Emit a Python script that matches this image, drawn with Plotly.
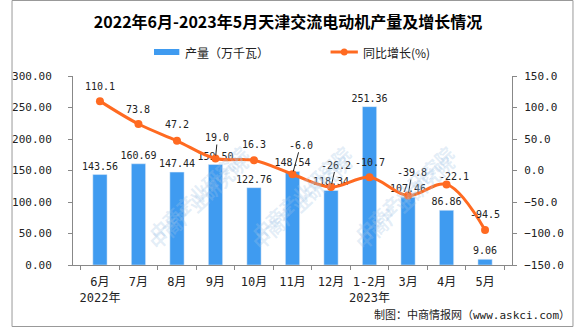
import plotly.graph_objects as go

categories = ["6月<br>2022年", "7月", "8月", "9月", "10月", "11月", "12月", "1-2月<br>2023年", "3月", "4月", "5月"]
production = [143.56, 160.69, 147.44, 159.50, 122.76, 148.54, 118.34, 251.36, 107.46, 86.86, 9.06]
growth = [110.1, 73.8, 47.2, 19.0, 16.3, -6.0, -26.2, -10.7, -39.8, -22.1, -94.5]

# label placement styles for the growth labels (pixel offsets), leader lines
label_dy = [15, 15, 16, 21, 16, 29, 22, 15, 23, 8, 16]
label_dx = [0, 0, 0, 2, 0, 8, 5, 0, 4, 7, 0]
leader = [False, False, False, True, False, True, True, False, True, False, False]

W, H = 576, 327
L, R, T, B = 63, 63, 76, 62
PW, PH = W - L - R, H - T - B

def px(x):
    return (x - L) / PW

def py(y):
    return (H - B - y) / PH

mono = "DejaVu Sans Mono, Noto Sans CJK SC"
cjk = "Noto Sans CJK SC"
fig = go.Figure()
fig.add_trace(go.Bar(
    x=categories, y=production, name="产量（万千瓦）",
    marker_color="#3F9BF0", width=0.37,
    text=[f"{v:.2f}" for v in production], textposition="outside",
    constraintext="none",
    textfont=dict(size=10, color="#222", family=mono), cliponaxis=False,
))
fig.add_trace(go.Scatter(
    x=categories, y=growth, name="同比增长(%)", yaxis="y2",
    mode="lines+markers", line=dict(color="#FF6A21", width=3, shape="spline"),
    marker=dict(size=8, color="#FF6A21"), cliponaxis=False,
))
for c, g, dy, dx, ld in zip(categories, growth, label_dy, label_dx, leader):
    fig.add_annotation(
        x=c, y=g, xref="x", yref="y2", text=f"{g:.1f}",
        showarrow=True, ax=dx, ay=-dy, arrowhead=0, arrowwidth=1,
        arrowcolor="#222" if ld else "rgba(0,0,0,0)", standoff=3,
        font=dict(size=10, color="#222", family=mono),
    )

fig.update_layout(
    width=W, height=H, margin=dict(l=L, r=R, t=T, b=B),
    paper_bgcolor="white", plot_bgcolor="white",
    font=dict(family=mono, size=11, color="#222"),
    title=dict(text="<b>2022年6月-2023年5月天津交流电动机产量及增长情况</b>",
               x=0.5, xanchor="center", y=1 - 22 / H, yanchor="middle",
               font=dict(size=16, color="#000", family=cjk)),
    showlegend=False,
    xaxis=dict(showline=True, linecolor="#888", ticks="outside", tickson="boundaries",
               ticklen=4, tickcolor="#888", tickfont=dict(size=12, family=mono),
               tickangle=0, ticklabelstandoff=6),
    yaxis=dict(range=[0, 300], dtick=50, tickformat=".2f", showgrid=False,
               showline=True, linecolor="#888", ticks="outside", tickcolor="#888",
               ticklen=4, tickfont=dict(size=11), ticklabelstandoff=14),
    yaxis2=dict(range=[-150, 150], dtick=50, tickformat=".1f", overlaying="y",
                side="right", showgrid=False, showline=True, linecolor="#888",
                ticks="outside", tickcolor="#888", ticklen=4, zeroline=False,
                tickfont=dict(size=11), ticklabelstandoff=5),
)

# manual legend
fig.add_shape(type="rect", xref="paper", yref="paper", x0=px(146), x1=px(172),
              y0=py(55), y1=py(49), fillcolor="#3F9BF0", line=dict(width=0))
fig.add_annotation(text="产量（万千瓦）", xref="paper", yref="paper", x=px(176), y=py(52),
                   xanchor="left", yanchor="middle", showarrow=False,
                   font=dict(size=12, color="#222", family=cjk))
fig.add_shape(type="line", xref="paper", yref="paper", x0=px(327), x1=px(355),
              y0=py(52), y1=py(52), line=dict(color="#FF6A21", width=3))
fig.add_shape(type="circle", xref="paper", yref="paper", x0=px(337.5), x1=px(344.5),
              y0=py(55.5), y1=py(48.5), fillcolor="#FF6A21", line=dict(width=0))
fig.add_annotation(text="同比增长(%)", xref="paper", yref="paper", x=px(358), y=py(52),
                   xanchor="left", yanchor="middle", showarrow=False,
                   font=dict(size=12, color="#222", family=cjk))

# watermarks (fully inside the picture)
for wx in [70, 235, 400]:
    for wy in [197, 317]:
        fig.add_annotation(text="<b>中商产业研究院</b>", xref="paper", yref="paper",
                           x=px(wx + 62), y=py(wy - 60), showarrow=False, textangle=-43,
                           font=dict(size=18, color="rgba(160,195,230,0.3)", family=cjk))

# frame
fig.add_shape(type="rect", xref="paper", yref="paper", x0=px(0.5), x1=px(W - 0.5),
              y0=py(H - 0.5), y1=py(0.5), line=dict(color="#999", width=1))
fig.add_annotation(text="制图：中商情报网（www.askci.com）", xref="paper", yref="paper",
                   x=px(574), y=py(315), xanchor="right", yanchor="middle",
                   showarrow=False, font=dict(size=11, color="#222", family=mono))
fig.write_html("out.html")
